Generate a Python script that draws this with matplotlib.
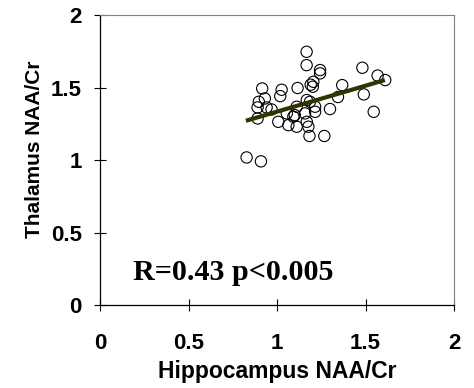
import numpy as np
import matplotlib
matplotlib.use("Agg")
import matplotlib.pyplot as plt

# scatter values
hippo = [0.828, 0.909, 0.890, 0.890, 0.897, 0.916, 0.931, 0.941, 0.969, 1.007,
         1.018, 1.026, 1.055, 1.064, 1.092, 1.111, 1.116, 1.111, 1.100, 1.167,
         1.167, 1.168, 1.186, 1.158, 1.168, 1.177, 1.183, 1.205, 1.202, 1.190,
         1.215, 1.215, 1.243, 1.243, 1.267, 1.299, 1.344, 1.368, 1.482, 1.490,
         1.546, 1.568, 1.611]
thal = [1.018, 0.991, 1.287, 1.363, 1.402, 1.494, 1.425, 1.363, 1.349, 1.264,
        1.441, 1.485, 1.322, 1.241, 1.299, 1.230, 1.497, 1.368, 1.310, 1.747,
        1.655, 1.414, 1.402, 1.322, 1.264, 1.230, 1.166, 1.540, 1.506, 1.520,
        1.368, 1.333, 1.621, 1.598, 1.166, 1.352, 1.435, 1.517, 1.637, 1.453,
        1.333, 1.583, 1.552]

# regression line ends
fit_x = [0.824, 1.609]
fit_y = [1.271, 1.552]

ticks = [0, 0.5, 1, 1.5, 2]
tick_lbls = ["0", "0.5", "1", "1.5", "2"]

fig = plt.figure(figsize=(4.74, 3.88), dpi=100)
ax = fig.add_axes([0.211, 0.214, 0.747, 0.747])

ax.scatter(hippo, thal, s=66, facecolors="none", edgecolors="black", linewidths=0.8, zorder=3)
ax.plot(fit_x, fit_y, color="#333300", lw=3.0, solid_capstyle="butt", zorder=4)

ax.set_xlim(0, 2)
ax.set_ylim(0, 2)
ax.set_xticks(ticks)
ax.set_xticklabels(tick_lbls)
ax.set_yticks(ticks)
ax.set_yticklabels(tick_lbls)

for lbl in ax.get_xticklabels() + ax.get_yticklabels():
    lbl.set_fontfamily("Liberation Sans")
    lbl.set_fontweight("bold")
    lbl.set_fontsize(16)

ax.tick_params(axis="both", direction="inout", length=8, width=0.8, color="black")
ax.tick_params(axis="x", pad=16)
ax.tick_params(axis="y", pad=9)

ax.spines["top"].set_color("#808080")
ax.spines["right"].set_color("#808080")
ax.spines["left"].set_linewidth(0.9)
ax.spines["bottom"].set_linewidth(0.9)

ax.set_xlabel("Hippocampus NAA/Cr", fontfamily="Liberation Sans", fontweight="bold",
              fontsize=16.5)
ax.set_ylabel("Thalamus NAA/Cr", fontfamily="Liberation Sans", fontweight="bold",
              fontsize=15)
ax.xaxis.set_label_coords(0.5, -0.19)
ax.yaxis.set_label_coords(-0.159, 0.538)

ax.text(0.185, 0.172, "R=0.43 p<0.005", fontfamily="Liberation Serif", fontweight="bold",
        fontsize=21.7, ha="left", va="baseline")

fig.savefig("out.png", dpi=100)
